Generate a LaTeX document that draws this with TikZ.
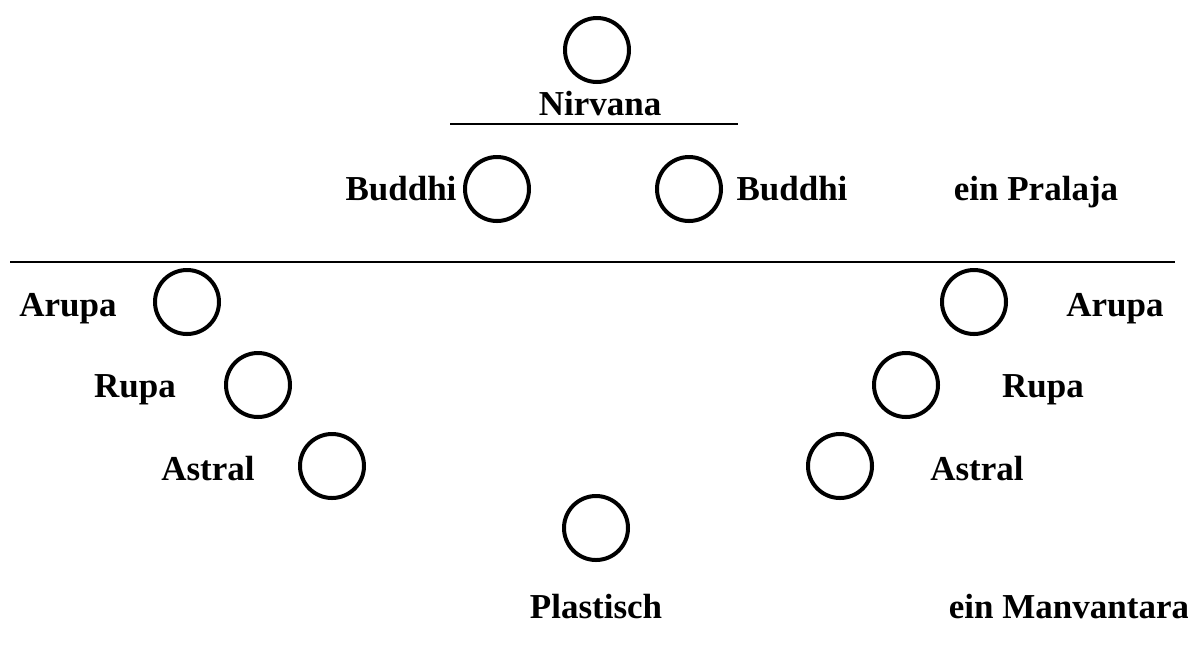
\documentclass[tikz,border=0pt]{standalone}
\usepackage{fontspec}
\setmainfont{Liberation Serif}
\begin{document}
\begin{tikzpicture}[x=0.5pt,y=-0.5pt,
  ring/.style={circle,draw,line width=2pt,minimum size=32pt,inner sep=0pt},
  lbl/.style={font=\bfseries\fontsize{17.5}{20}\selectfont,inner sep=0pt,anchor=base},
  rule/.style={line width=1.1pt}]
\useasboundingbox (0,0) rectangle (1188,655);
% top
\node[ring] (nirc) at (597,50) {};
\node[lbl] (nir) at (600,115) {Nirvana};
\coordinate (r1a) at (450,124);
\coordinate (r1b) at (738,124);
\draw[rule] (r1a) -- (r1b);
% Buddhi
\node[ring] (bl) at (497,189) {};
\node[ring] (br) at (689,189) {};
\node[lbl] (blt) at (401,200) {Buddhi};
\node[lbl] (brt) at (792,200) {Buddhi};
\node[lbl] (pra) at (1036,200) {ein Pralaja};
\coordinate (r2a) at (10,262);
\coordinate (r2b) at (1175,262);
\draw[rule] (r2a) -- (r2b);
% left arc
\node[ring] (al) at (187,302) {};
\node[lbl] (alt) at (68,316) {Arupa};
\node[ring] (rl) at (258,385) {};
\node[lbl] (rlt) at (135,397) {Rupa};
\node[ring] (asl) at (332,466) {};
\node[lbl] (aslt) at (208,480) {Astral};
% bottom
\node[ring] (pl) at (596,528) {};
\node[lbl] (plt) at (596,618) {Plastisch};
% right arc
\node[ring] (asr) at (840,466) {};
\node[lbl] (asrt) at (977,480) {Astral};
\node[ring] (rr) at (906,385) {};
\node[lbl] (rrt) at (1043,397) {Rupa};
\node[ring] (ar) at (974,302) {};
\node[lbl] (art) at (1115,316) {Arupa};
\node[lbl] (man) at (1069,618) {ein Manvantara};
\end{tikzpicture}
\end{document}
